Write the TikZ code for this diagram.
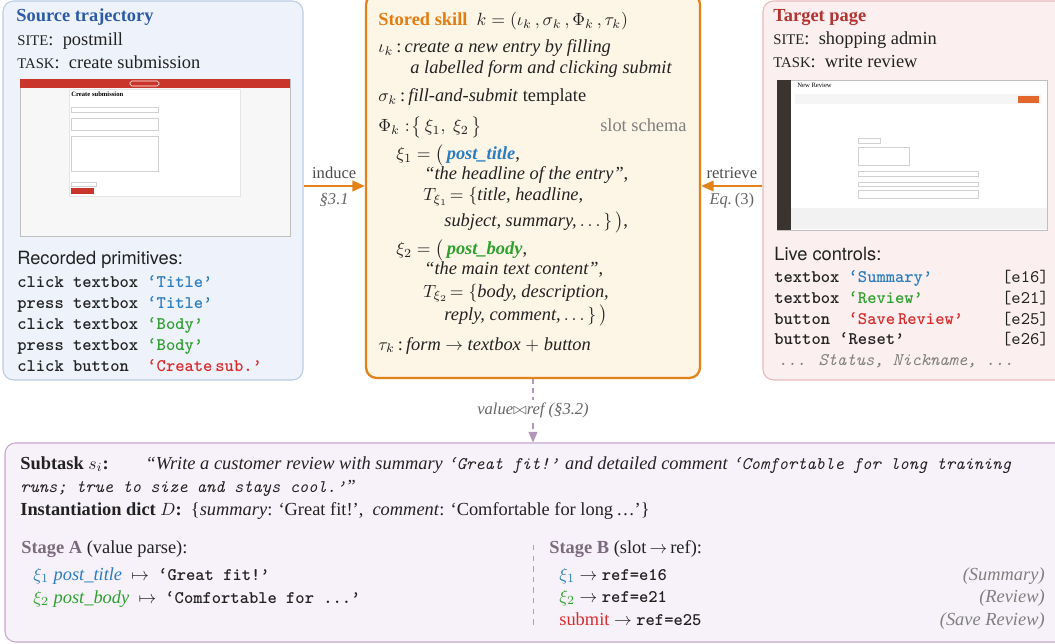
\documentclass[tikz,border=0pt]{standalone}
\usepackage{amsmath}
\usepackage{amssymb}
\usepackage{fontspec}
\setmainfont{Liberation Serif}[Scale=1.04]
\newfontfamily\helvfont{TeX Gyre Heros}[Scale=1.03]
\usetikzlibrary{arrows.meta,fit}

\definecolor{srcfill}{HTML}{EEF3FB}
\definecolor{srcline}{HTML}{BACBE3}
\definecolor{srctitle}{HTML}{2D5BA8}
\definecolor{skfill}{HTML}{FDF5E6}
\definecolor{skline}{HTML}{E2831A}
\definecolor{sktitle}{HTML}{E27D12}
\definecolor{tgfill}{HTML}{FBEFEF}
\definecolor{tgline}{HTML}{E8B9BB}
\definecolor{tgtitle}{HTML}{B23330}
\definecolor{subfill}{HTML}{F7F2F9}
\definecolor{subline}{HTML}{C7A6D1}
\definecolor{stagecol}{HTML}{7B6A7D}
\definecolor{slotblue}{HTML}{2A7DC1}
\definecolor{slotgreen}{HTML}{2DA02D}
\definecolor{slotred}{HTML}{D92B2B}
\definecolor{note}{HTML}{7F7F7F}
\definecolor{ink}{HTML}{222222}
\definecolor{shotred}{HTML}{C9352B}
\definecolor{sidedark}{HTML}{3A3431}
\definecolor{btnorange}{HTML}{E2672C}

\newcommand{\kw}[1]{{\ttfamily\bfseries #1}}
\newcommand{\itt}[1]{{\ttfamily\itshape #1}}
\newcommand{\sitecap}[1]{{\fontsize{8}{9.6}\selectfont #1}}

\tikzset{
	panel/.style={draw, rounded corners=6pt, inner sep=0pt, line width=0.6pt},
	txt/.style={anchor=base west, inner sep=0pt, text=ink},
	flow/.style={draw=skline, line width=1pt, -{Triangle[length=7pt,width=6pt]}},
	shotframe/.style={draw=black!25, line width=0.4pt},
	field/.style={draw=black!18, fill=white, line width=0.3pt},
	tiny/.style={anchor=base west, inner sep=0pt, font=\fontsize{3.6}{4}\selectfont}
}

\begin{document}
\begin{tikzpicture}[x=0.565pt, y=-0.565pt]
	\useasboundingbox (0,0) rectangle (1055,644);

	\node (src) [panel, draw=srcline, fill=srcfill, fit={(3,1) (303,380)}] {};
	\node (skill) [panel, draw=skline, fill=skfill, line width=1.3pt, fit={(366,-6) (700,378)}] {};
	\node (tgt) [panel, draw=tgline, fill=tgfill, fit={(763,1) (1066,380)}] {};
	\node (task) [panel, draw=subline, fill=subfill, fit={(5,443) (1066,642)}] {};

	% source trajectory
	\node (srchead) at (16,22) [txt, text=srctitle, font=\bfseries] {Source trajectory};
	\node (srcsite) at (17,46) [txt] {\sitecap{SITE}:\enspace postmill};
	\node (srctask) at (17,69) [txt] {\sitecap{TASK}:\enspace create submission};
	\draw[shotframe, fill=black!3] (20,79) rectangle (290,236);
	\fill[shotred] (20,79) rectangle (290,88);
	\draw[white, line width=0.3pt, rounded corners=1pt] (130,81) rectangle (159,86);
	\draw[draw=black!10, fill=white] (69,89) rectangle (240,196);
	\node (srcshot) at (71,97) [tiny, font=\fontsize{3.6}{4}\selectfont\bfseries] {Create submission};
	\draw[field] (71,107) rectangle (158,112);
	\draw[field] (71,118) rectangle (158,130);
	\draw[field] (71,136) rectangle (158,171);
	\draw[field] (71,182) rectangle (96,186);
	\fill[shotred] (71,188) rectangle (94,194);
	\node (srcprim) at (17,265) [txt, font=\helvfont] {Recorded primitives:};
	\node (p1) at (17,287) [txt] {\kw{click textbox \textcolor{slotblue}{‘Title’}}};
	\node (p2) at (17,308) [txt] {\kw{press textbox \textcolor{slotblue}{‘Title’}}};
	\node (p3) at (17,329) [txt] {\kw{click textbox \textcolor{slotgreen}{‘Body’}}};
	\node (p4) at (17,350) [txt] {\kw{press textbox \textcolor{slotgreen}{‘Body’}}};
	\node (p5) at (17,371) [txt] {\kw{click button \ \textcolor{slotred}{‘Create\,sub.’}}};

	% stored skill
	\node (skhead) at (378,26) [txt] {{\bfseries\color{sktitle}Stored skill}\enspace$k=(\iota_k\,,\sigma_k\,,\Phi_k\,,\tau_k)$};
	\node (iota) at (378,53) [txt] {$\iota_k$\,:\,\textit{create a new entry by filling}};
	\node (iota2) at (410,74) [txt] {\textit{a labelled form and clicking submit}};
	\node (sigma) at (378,102) [txt] {$\sigma_k$\,:\,\textit{fill-and-submit} template};
	\node (phi) at (378,132) [txt] {$\Phi_k:\!\smash{\bigl\{}\,\xi_1,\ \xi_2\,\smash{\bigr\}}$};
	\node (schema) at (687,132) [txt, anchor=base east, text=note] {slot schema};
	\node (xi1) at (396,160) [txt] {$\xi_1=\smash{\bigl(}$\,\textcolor{slotblue}{\textbf{\textit{post\_title}}},};
	\node (xi1d) at (424,180) [txt] {\textit{“the headline of the entry”},};
	\node (xi1t) at (423,201) [txt] {$T_{\smash{\xi_1}}\!=\{$\textit{title, headline,}};
	\node (xi1u) at (444,227) [txt] {\textit{subject, summary,}\,$\ldots\,\}\,\smash{\bigr)}$,};
	\node (xi2) at (396,255) [txt] {$\xi_2=\smash{\bigl(}$\,\textcolor{slotgreen}{\textbf{\textit{post\_body}}},};
	\node (xi2d) at (424,275) [txt] {\textit{“the main text content”},};
	\node (xi2t) at (423,297) [txt] {$T_{\smash{\xi_2}}\!=\{$\textit{body, description,}};
	\node (xi2u) at (444,320) [txt] {\textit{reply, comment,}\,$\ldots\,\}\,\smash{\bigr)}$};
	\node (tau) at (378,350) [txt] {$\tau_k$\,:\,\textit{form} $\rightarrow$ \textit{textbox} $+$ \textit{button}};

	% target page
	\node (tghead) at (773,22) [txt, text=tgtitle, font=\bfseries] {Target page};
	\node (tgsite) at (773,45) [txt] {\sitecap{SITE}:\enspace shopping admin};
	\node (tgtask) at (773,68) [txt] {\sitecap{TASK}:\enspace write review};
	\draw[shotframe, fill=white] (777,80) rectangle (1047,230);
	\fill[sidedark] (777,80) rectangle (791,230);
	\fill[black!4] (795,94) rectangle (1041,104);
	\fill[btnorange] (1018,96) rectangle (1039,103);
	\node (tgshot) at (797,88) [tiny] {New Review};
	\draw[field] (858,138) rectangle (880,143);
	\draw[field] (858,147) rectangle (909,165);
	\draw[field] (858,171) rectangle (978,176);
	\draw[field] (858,182) rectangle (978,186);
	\draw[field] (858,190) rectangle (978,198);
	\fill[black!5] (791,208) rectangle (1047,229.5);
	\node (tglive) at (774,260) [txt, font=\helvfont] {Live controls:};
	\node (c1) at (774,283) [txt] {\kw{textbox \textcolor{slotblue}{‘Summary’}}};
	\node (c2) at (774,303) [txt] {\kw{textbox \textcolor{slotgreen}{‘Review’}}};
	\node (c3) at (774,324) [txt] {\kw{button \ \textcolor{slotred}{‘Save\,Review’}}};
	\node (c4) at (774,344) [txt] {\kw{button ‘Reset’}};
	\node (r1) at (1049,283) [txt, anchor=base east] {\texttt{[e16]}};
	\node (r2) at (1049,303) [txt, anchor=base east] {\texttt{[e21]}};
	\node (r3) at (1049,324) [txt, anchor=base east] {\texttt{[e25]}};
	\node (r4) at (1049,344) [txt, anchor=base east] {\texttt{[e26]}};
	\node (c5) at (778,365) [txt, text=note] {\itt{... Status, Nickname, ...}};

	% connectors
	\draw[flow] (src.east |- skill.west) -- node[above, text=black!70, font=\small] {induce} node[below, text=black!60, font=\small\itshape] {\S3.1} (skill.west);
	\draw[flow] (tgt.west |- skill.east) -- node[above, text=black!70, font=\small] {retrieve} node[below, text=black!60, font=\small] {\textit{Eq.}\,(3)} (skill.east);
	\draw[draw=subline!90!black, densely dashed, line width=0.8pt, -{Triangle[length=6pt,width=5pt]}] (skill.south) -- node[fill=white, text=black!60, font=\small\itshape, inner sep=2pt] {value$\bowtie$ref (\S3.2)} (skill.south |- task.north);

	% subtask
	\node (sub1) at (20,469) [txt] {\textbf{Subtask} $s_i$\textbf{:}\qquad\textit{“Write a customer review with summary \itt{‘Great fit!’} and detailed comment \itt{‘Comfortable for long training}}};
	\node (sub2) at (20,492) [txt] {\itt{runs; true to size and stays cool.’}\textit{”}};
	\node (dict) at (20,515) [txt] {\textbf{Instantiation dict} $D$\textbf{:}\enspace\{\textit{summary}: ‘Great fit!’,\enspace\textit{comment}: ‘Comfortable for long\,\ldots’\}};
	\node (stagea) at (21,553) [txt] {\textcolor{stagecol}{\textbf{Stage A}} (value parse):};
	\node (va) at (33,580) [txt] {\textcolor{slotblue}{$\xi_1$ \textit{post\_title}}\enspace$\mapsto$\enspace\kw{‘Great fit!’}};
	\node (vb) at (33,603) [txt] {\textcolor{slotgreen}{$\xi_2$ \textit{post\_body}}\enspace$\mapsto$\enspace\kw{‘Comfortable for ...’}};
	\draw[black!35, dashed, line width=0.5pt] (533,545) -- (533,628);
	\node (stageb) at (549,553) [txt] {\textcolor{stagecol}{\textbf{Stage B}} (slot\,$\rightarrow$\,ref):};
	\node (ra) at (559,580) [txt] {\textcolor{slotblue}{$\xi_1$} $\rightarrow$ \kw{ref=e16}};
	\node (rb) at (559,602) [txt] {\textcolor{slotgreen}{$\xi_2$} $\rightarrow$ \kw{ref=e21}};
	\node (rc) at (559,625) [txt] {\textcolor{slotred}{submit} $\rightarrow$ \kw{ref=e25}};
	\node (na) at (1045,580) [txt, anchor=base east, text=note] {\textit{(Summary)}};
	\node (nb) at (1045,602) [txt, anchor=base east, text=note] {\textit{(Review)}};
	\node (nc) at (1045,625) [txt, anchor=base east, text=note] {\textit{(Save Review)}};
\end{tikzpicture}
\end{document}
